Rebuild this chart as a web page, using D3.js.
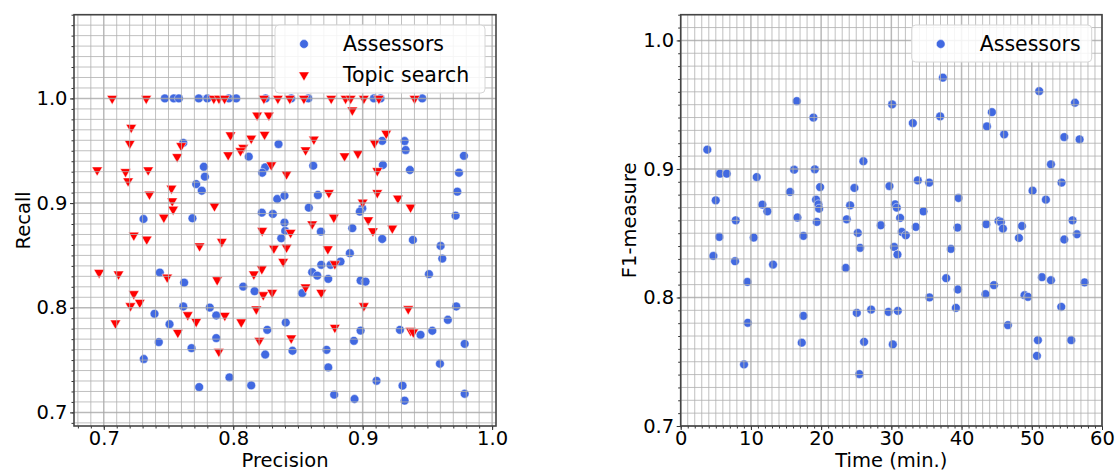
<!DOCTYPE html>
<html>
<head>
<meta charset="utf-8">
<script src="https://cdn.jsdelivr.net/npm/d3@7"></script>
<style>
  html, body { margin: 0; padding: 0; background: #fff; }
  svg { display: block; font-family: "DejaVu Sans", sans-serif; }
</style>
</head>
<body>
<svg id="chart" width="1116" height="472"></svg>
<script>
// ---- Precision / recall of the assessors ----
const assessorPrecision = [
  0.7472, 0.7541, 0.758, 0.7734, 0.78, 0.7966, 0.8023, 0.825, 0.8448, 0.858, 0.9087, 0.9138, 0.946,
  0.7614, 0.835, 0.812, 0.9151, 0.9324, 0.9332, 0.9782,
  0.7773, 0.7781, 0.7714, 0.7757, 0.7307, 0.7685, 0.7433, 0.7621, 0.8077, 0.8165,
  0.8247, 0.8224, 0.834, 0.8396, 0.8221, 0.8306, 0.8396, 0.8402, 0.8371,
  0.8618, 0.9156, 0.9365, 0.9744, 0.8654, 0.9731, 0.8584, 0.8997, 0.8978, 0.9718, 0.8677, 0.892,
  0.9151, 0.9388, 0.9602, 0.8901, 0.8829, 0.868, 0.8752, 0.9615, 0.861, 0.8649, 0.8734, 0.9512,
  0.8984, 0.9022, 0.8533,
  0.7392, 0.7614, 0.7508, 0.7819, 0.7869, 0.7425, 0.7678, 0.7869, 0.7309, 0.7737, 0.7971, 0.8139,
  0.8263, 0.8247, 0.8406,
  0.9723, 0.8984, 0.9288, 0.9447, 0.9538, 0.9658, 0.8932, 0.8458, 0.8721, 0.9788, 0.8734, 0.9597,
  0.9107, 0.9308, 0.878, 0.8937, 0.9324, 0.9788
];
const assessorRecall = [
  1.0, 1.0, 1.0, 1.0, 1.0, 1.0, 1.0, 1.0, 1.0, 1.0, 1.0, 1.0, 1.0,
  0.9576, 0.9564, 0.9443, 0.9595, 0.9593, 0.9507, 0.9452,
  0.9347, 0.9252, 0.9182, 0.9118, 0.8848, 0.8855, 0.8336, 0.824, 0.8202, 0.8158,
  0.9342, 0.929, 0.9039, 0.907, 0.8908, 0.8896, 0.8813, 0.8734, 0.8664,
  0.9357, 0.9364, 0.9316, 0.929, 0.9077, 0.9109, 0.8956, 0.895, 0.8918, 0.888, 0.8727, 0.876,
  0.8657, 0.8648, 0.8591, 0.8521, 0.8441, 0.841, 0.841, 0.847, 0.834, 0.8307, 0.8276, 0.8321,
  0.826, 0.825, 0.8139,
  0.7942, 0.8012, 0.7843, 0.8002, 0.7926, 0.7672, 0.7614, 0.771, 0.751, 0.7242, 0.7334, 0.7258,
  0.7789, 0.7553, 0.7859,
  0.8012, 0.7782, 0.7789, 0.7741, 0.778, 0.7885, 0.7684, 0.7589, 0.7598, 0.7655, 0.743, 0.7465,
  0.7302, 0.7255, 0.7169, 0.7128, 0.7112, 0.7178
];

// ---- Precision / recall of the topic search ----
const topicPrecision = [
  0.7065, 0.7328, 0.785, 0.789, 0.7933, 0.8237, 0.8345, 0.8437, 0.8546, 0.8757, 0.8868, 0.8907,
  0.9009, 0.9125, 0.9401,
  0.8185, 0.8275, 0.7212, 0.7201, 0.7598, 0.7979, 0.8139, 0.8242, 0.8077, 0.8056, 0.7567, 0.7961,
  0.892, 0.8623, 0.8559, 0.886, 0.8963, 0.9092, 0.9182,
  0.6949, 0.7168, 0.7188, 0.7343, 0.7353, 0.7523, 0.7529, 0.7536, 0.7855, 0.7464, 0.7232, 0.7332,
  0.774, 0.7912, 0.749, 0.6964, 0.7114, 0.7876, 0.8159, 0.8221, 0.8232, 0.8301, 0.7232, 0.7278,
  0.8294, 0.8412, 0.8224, 0.8443, 0.8314, 0.8412, 0.8386,
  0.9113, 0.8739, 0.9113, 0.9, 0.9272, 0.937, 0.8777, 0.9043, 0.861, 0.9079, 0.9229, 0.8731,
  0.8785, 0.8559, 0.868,
  0.7206, 0.709, 0.7649, 0.7714, 0.7572, 0.7935, 0.8062, 0.7889, 0.8178, 0.8202,
  0.9009, 0.9352, 0.8785, 0.937, 0.9391, 0.8448
];
const topicRecall = [
  1.0, 1.0, 1.0, 1.0, 1.0, 1.0, 1.0, 1.0, 1.0, 1.0, 1.0, 1.0,
  1.0, 1.0, 1.0,
  0.984, 0.984, 0.9723, 0.957, 0.9548, 0.965, 0.9618, 0.9656, 0.953, 0.95, 0.9443, 0.946,
  0.9888, 0.961, 0.9507, 0.945, 0.9475, 0.9576, 0.9666,
  0.9316, 0.93, 0.9211, 0.9316, 0.9084, 0.9141, 0.902, 0.894, 0.8972, 0.8864, 0.8693, 0.8655,
  0.859, 0.8632, 0.8292, 0.8336, 0.8321, 0.8266, 0.8321, 0.8371, 0.8123, 0.8145, 0.8133, 0.805,
  0.9364, 0.9278, 0.8737, 0.8718, 0.8569, 0.8578, 0.8441,
  0.9309, 0.9099, 0.9099, 0.9008, 0.9046, 0.896, 0.8864, 0.8839, 0.88, 0.8734, 0.876, 0.8562,
  0.8419, 0.8197, 0.8145,
  0.8018, 0.7853, 0.7932, 0.7868, 0.7763, 0.7926, 0.7863, 0.7582, 0.7987, 0.7687,
  0.8018, 0.7989, 0.7811, 0.7782, 0.7767, 0.771
];

// ---- Time spent (minutes) and F1 of the assessors ----
const assessorTime = [
  3.79, 16.53, 18.9, 26.02,
  37.34, 30.11, 33.06, 36.95, 44.32, 43.61, 46.07, 51.06, 56.15, 54.62, 56.81,
  5.6, 6.56, 10.83, 16.15, 19.1, 4.99, 15.58, 19.85, 24.74, 11.63, 12.34, 19.28, 19.61, 19.71,
  24.13, 7.84, 16.62, 19.38, 23.65, 28.5,
  5.5, 10.4, 17.48, 25.22, 25.55, 4.65, 7.74, 13.15, 23.51, 9.5,
  52.73, 33.77, 35.39, 29.73, 54.24, 50.11, 52.01, 39.56, 30.54, 30.78, 34.57, 31.25, 33.49, 39.42,
  43.51, 45.26, 45.6, 45.89, 48.6, 55.81, 56.43, 31.49, 32.06, 54.62, 48.17, 30.4, 30.87, 38.48,
  37.81, 39.47, 51.45, 52.73, 57.52, 44.61, 35.43, 43.41, 48.97, 49.45,
  17.48, 9.55, 25.08, 27.12, 17.24, 26.12, 9.02, 25.45,
  29.59, 30.92, 39.19, 54.2, 46.6, 30.21, 50.87, 55.62, 50.73
];
const assessorF1 = [
  0.915, 0.9528, 0.94, 0.906,
  0.971, 0.9502, 0.9357, 0.9409, 0.9442, 0.9331, 0.9269, 0.9605, 0.9515, 0.9248, 0.923,
  0.8963, 0.8963, 0.8937, 0.8994, 0.8997, 0.8756, 0.8821, 0.8859, 0.8852, 0.8722, 0.867, 0.8761,
  0.8725, 0.8691, 0.8717, 0.86, 0.8622, 0.8588, 0.8608, 0.8562,
  0.8471, 0.8466, 0.8479, 0.8502, 0.8386, 0.8323, 0.8282, 0.8256, 0.823, 0.8121,
  0.9036, 0.8911, 0.8894, 0.8867, 0.8894, 0.8831, 0.8761, 0.8774, 0.8725, 0.8699, 0.867, 0.8619,
  0.8549, 0.8544, 0.857, 0.8595, 0.8587, 0.8536, 0.8556, 0.86, 0.8492, 0.851, 0.8484, 0.8451,
  0.8463, 0.8393, 0.8334, 0.8378, 0.815, 0.8062, 0.8158, 0.8134, 0.8117, 0.8096, 0.8, 0.8026,
  0.8018, 0.8005,
  0.7857, 0.7803, 0.788, 0.7906, 0.7648, 0.7655, 0.7479, 0.7404,
  0.7888, 0.7896, 0.7919, 0.7927, 0.7785, 0.7635, 0.7668, 0.7668, 0.7546
];

// ---- Tick labels ----
const prTicks = [0.7, 0.8, 0.9, 1.0];
const recallTicks = [0.7, 0.8, 0.9, 1.0];
const timeTicks = [0, 10, 20, 30, 40, 50, 60];
const f1Ticks = [0.7, 0.8, 0.9, 1.0];

const svg = d3.select("#chart");
const FONT = 19.5;
const BLUE = "#4169e1";
const RED = "#ff0000";

function range(a, b, step) {
  const out = [];
  const n = Math.round((b - a) / step);
  for (let i = 0; i <= n; i++) out.push(+(a + i * step).toFixed(6));
  return out;
}

function drawPanel(cfg) {
  const g = svg.append("g");
  const x = d3.scaleLinear().domain(cfg.xDomain).range([cfg.left, cfg.right]);
  const y = d3.scaleLinear().domain(cfg.yDomain).range([cfg.bottom, cfg.top]);

  g.append("rect")
    .attr("x", cfg.left).attr("y", cfg.top)
    .attr("width", cfg.right - cfg.left).attr("height", cfg.bottom - cfg.top)
    .attr("fill", "#fff");

  // data markers
  cfg.series.forEach(s => {
    const pts = d3.zip(s.x, s.y);
    if (s.shape === "circle") {
      g.append("g").selectAll("circle").data(pts).join("circle")
        .attr("cx", d => x(d[0])).attr("cy", d => y(d[1])).attr("r", 4.4)
        .attr("fill", s.color).attr("stroke", "#fff").attr("stroke-width", 0.5);
    } else {
      const tri = d3.symbol().type(d3.symbolTriangle).size(48);
      g.append("g").selectAll("path").data(pts).join("path")
        .attr("d", tri)
        .attr("transform", d => `translate(${x(d[0])},${y(d[1])}) rotate(180)`)
        .attr("fill", s.color).attr("stroke", "#fff").attr("stroke-width", 0.5);
    }
  });

  // grid, laid over the markers
  const grid = g.append("g").attr("pointer-events", "none");
  const isMajor = (v, majors) => majors.some(m => Math.abs(m - v) < 1e-6);
  const xs = range(cfg.xMinor[0], cfg.xMinor[1], cfg.xMinor[2]).filter(v => v >= cfg.xDomain[0] && v <= cfg.xDomain[1]);
  const ys = range(cfg.yMinor[0], cfg.yMinor[1], cfg.yMinor[2]).filter(v => v >= cfg.yDomain[0] && v <= cfg.yDomain[1]);
  grid.selectAll("line.vx").data(xs).join("line")
    .attr("x1", d => x(d)).attr("x2", d => x(d))
    .attr("y1", cfg.top).attr("y2", cfg.bottom)
    .attr("stroke", d => isMajor(d, cfg.xTicks) ? "#a8a8a8" : "#b0b0b0")
    .attr("stroke-opacity", 0.8)
    .attr("stroke-width", d => isMajor(d, cfg.xTicks) ? 1.5 : 1);
  grid.selectAll("line.hy").data(ys).join("line")
    .attr("y1", d => y(d)).attr("y2", d => y(d))
    .attr("x1", cfg.left).attr("x2", cfg.right)
    .attr("stroke", d => isMajor(d, cfg.yTicks) ? "#a8a8a8" : "#b0b0b0")
    .attr("stroke-opacity", 0.8)
    .attr("stroke-width", d => isMajor(d, cfg.yTicks) ? 1.5 : 1);

  // axes
  const xAxisMinor = d3.axisBottom(x).tickValues(xs).tickSize(2.5).tickFormat("");
  const xAxis = d3.axisBottom(x).tickValues(cfg.xTicks).tickSize(4).tickPadding(1.5)
    .tickFormat(cfg.xFormat);
  const yAxisMinor = d3.axisLeft(y).tickValues(ys).tickSize(2.5).tickFormat("");
  const yAxis = d3.axisLeft(y).tickValues(cfg.yTicks).tickSize(4).tickPadding(2.5)
    .tickFormat(d3.format(".1f"));

  [xAxisMinor, xAxis].forEach(ax => {
    const a = g.append("g").attr("transform", `translate(0,${cfg.bottom})`).call(ax);
    a.select(".domain").remove();
    a.selectAll("line").attr("stroke", "#333");
    a.selectAll("text").attr("font-size", FONT).attr("fill", "#000")
      .attr("font-family", "DejaVu Sans");
  });
  [yAxisMinor, yAxis].forEach(ax => {
    const a = g.append("g").attr("transform", `translate(${cfg.left},0)`).call(ax);
    a.select(".domain").remove();
    a.selectAll("line").attr("stroke", "#333");
    a.selectAll("text").attr("font-size", FONT).attr("fill", "#000")
      .attr("font-family", "DejaVu Sans");
  });

  // frame
  g.append("rect")
    .attr("x", cfg.left).attr("y", cfg.top)
    .attr("width", cfg.right - cfg.left).attr("height", cfg.bottom - cfg.top)
    .attr("fill", "none").attr("stroke", "#444").attr("stroke-width", 1.6);

  // axis titles
  g.append("text")
    .attr("x", (cfg.left + cfg.right) / 2).attr("y", 467.4)
    .attr("text-anchor", "middle").attr("font-size", FONT).text(cfg.xLabel);
  g.append("text")
    .attr("transform", `translate(${cfg.yLabelX},${(cfg.top + cfg.bottom) / 2}) rotate(-90)`)
    .attr("text-anchor", "middle").attr("font-size", FONT).text(cfg.yLabel);

  // legend
  const L = cfg.legend;
  const lg = g.append("g");
  lg.append("rect")
    .attr("x", L.x).attr("y", L.y).attr("width", L.w).attr("height", L.h)
    .attr("rx", 4).attr("fill", "#fff").attr("fill-opacity", 0.85)
    .attr("stroke", "#d6d6d6").attr("stroke-width", 1);
  cfg.series.forEach((s, i) => {
    const cy = L.y + 19 + i * 31;
    if (s.shape === "circle") {
      lg.append("circle").attr("cx", L.x + 29).attr("cy", cy).attr("r", 4.4)
        .attr("fill", s.color).attr("stroke", "#fff").attr("stroke-width", 0.5);
    } else {
      lg.append("path").attr("d", d3.symbol().type(d3.symbolTriangle).size(48))
        .attr("transform", `translate(${L.x + 29},${cy}) rotate(180)`)
        .attr("fill", s.color).attr("stroke", "#fff").attr("stroke-width", 0.5);
    }
    lg.append("text").attr("x", L.x + 68).attr("y", cy + 7)
      .attr("font-size", 20.5).text(s.name);
  });
}

drawPanel({
  left: 74, right: 496, top: 14.7, bottom: 426,
  xDomain: [0.677, 1.003], yDomain: [0.687, 1.08],
  xMinor: [0.68, 1.0, 0.01], yMinor: [0.69, 1.08, 0.01],
  xTicks: prTicks, yTicks: recallTicks,
  xFormat: d3.format(".1f"),
  xLabel: "Precision", yLabel: "Recall", yLabelX: 29.5,
  legend: { x: 275, y: 25, w: 210, h: 68 },
  series: [
    { name: "Assessors", shape: "circle", color: BLUE, x: assessorPrecision, y: assessorRecall },
    { name: "Topic search", shape: "triangle", color: RED, x: topicPrecision, y: topicRecall }
  ]
});

drawPanel({
  left: 680.7, right: 1102, top: 14.7, bottom: 426,
  xDomain: [0, 60], yDomain: [0.7, 1.02],
  xMinor: [0, 60, 1], yMinor: [0.7, 1.02, 0.01],
  xTicks: timeTicks, yTicks: f1Ticks,
  xFormat: d3.format("d"),
  xLabel: "Time (min.)", yLabel: "F1-measure", yLabelX: 636,
  legend: { x: 911.7, y: 25, w: 180, h: 37 },
  series: [
    { name: "Assessors", shape: "circle", color: BLUE, x: assessorTime, y: assessorF1 }
  ]
});
</script>
</body>
</html>
